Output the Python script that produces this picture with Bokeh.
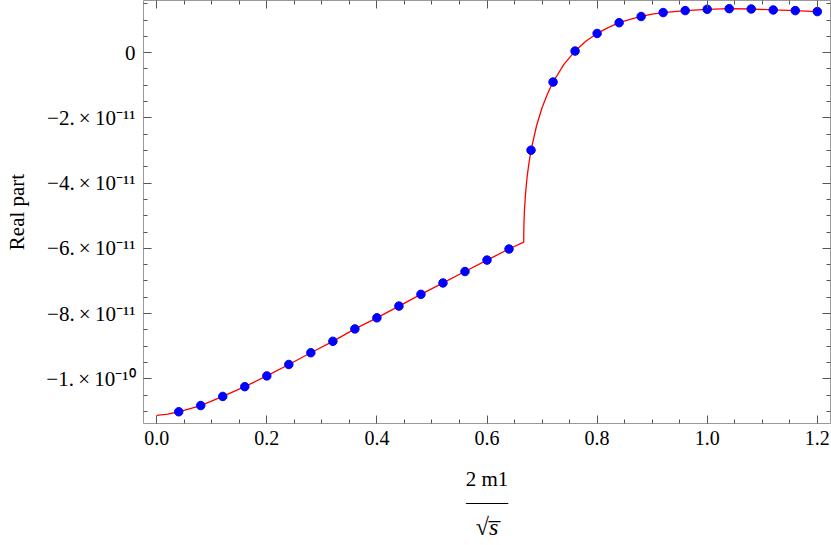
from bokeh.plotting import figure
from bokeh.models import (Range1d, LinearAxis, FixedTicker, Title,
                          CustomJSTickFormatter)
from bokeh.embed import file_html
from bokeh.resources import INLINE

# ---------------- data ----------------
dots_x = [0.04, 0.08, 0.12, 0.16, 0.20, 0.24, 0.28, 0.32, 0.36, 0.40,
          0.44, 0.48, 0.52, 0.56, 0.60, 0.64, 0.68, 0.72, 0.76, 0.80,
          0.84, 0.88, 0.92, 0.96, 1.00, 1.04, 1.08, 1.12, 1.16, 1.20]
dots_y = [-11.01e-11, -10.82e-11, -10.54e-11, -10.24e-11, -9.91e-11,
          -9.56e-11, -9.20e-11, -8.85e-11, -8.47e-11, -8.13e-11,
          -7.77e-11, -7.41e-11, -7.06e-11, -6.71e-11, -6.36e-11,
          -6.02e-11, -2.99e-11, -0.90e-11, 0.05e-11, 0.59e-11,
          0.92e-11, 1.11e-11, 1.23e-11, 1.29e-11, 1.33e-11,
          1.35e-11, 1.34e-11, 1.31e-11, 1.29e-11, 1.26e-11]

curve_x = [0.0, 0.02, 0.04, 0.08, 0.12, 0.16, 0.20, 0.24, 0.28, 0.32, 0.36,
           0.40, 0.44, 0.48, 0.52, 0.56, 0.60, 0.64, 0.6667, 0.6668, 0.6672,
           0.668, 0.670, 0.673, 0.676, 0.68, 0.69, 0.70, 0.71, 0.72, 0.74,
           0.76, 0.78, 0.80, 0.82, 0.84, 0.86, 0.88, 0.90, 0.92, 0.96, 1.00,
           1.04, 1.08, 1.12, 1.16, 1.20]
curve_y = [-11.12e-11, -11.08e-11, -11.01e-11, -10.82e-11, -10.54e-11,
           -10.24e-11, -9.91e-11, -9.56e-11, -9.20e-11, -8.85e-11, -8.47e-11,
           -8.13e-11, -7.77e-11, -7.41e-11, -7.06e-11, -6.71e-11, -6.36e-11,
           -6.02e-11, -5.81e-11, -5.53e-11, -5.21e-11, -4.85e-11, -4.32e-11,
           -3.79e-11, -3.41e-11, -2.99e-11, -2.24e-11, -1.69e-11, -1.26e-11,
           -0.90e-11, -0.35e-11, 0.05e-11, 0.36e-11, 0.59e-11, 0.77e-11,
           0.92e-11, 1.02e-11, 1.11e-11, 1.18e-11, 1.23e-11, 1.29e-11,
           1.33e-11, 1.35e-11, 1.34e-11, 1.31e-11, 1.29e-11, 1.26e-11]

x_ticks = [0.0, 0.2, 0.4, 0.6, 0.8, 1.0, 1.2]
x_tick_labels = ["0.0", "0.2", "0.4", "0.6", "0.8", "1.0", "1.2"]
x_minor = [0.05, 0.1, 0.15, 0.25, 0.3, 0.35, 0.45, 0.5, 0.55, 0.65, 0.7, 0.75,
           0.85, 0.9, 0.95, 1.05, 1.1, 1.15]
y_ticks = [-1e-10, -8e-11, -6e-11, -4e-11, -2e-11, 0.0]
y_tick_labels = ["\u22121.\u2009\u00d7\u200910\u207b\u00b9\u2070",
                 "\u22128.\u2009\u00d7\u200910\u207b\u00b9\u00b9",
                 "\u22126.\u2009\u00d7\u200910\u207b\u00b9\u00b9",
                 "\u22124.\u2009\u00d7\u200910\u207b\u00b9\u00b9",
                 "\u22122.\u2009\u00d7\u200910\u207b\u00b9\u00b9", "0"]
y_minor = [-11.0e-11, -10.5e-11, -9.5e-11, -9.0e-11, -8.5e-11, -7.5e-11, -7.0e-11,
           -6.5e-11, -5.5e-11, -5.0e-11, -4.5e-11, -3.5e-11, -3.0e-11, -2.5e-11,
           -1.5e-11, -1.0e-11, -0.5e-11, 0.5e-11, 1.0e-11, 1.5e-11]

x_label_num = "2 m1"
x_label_bar = "\u2014\u2014"
x_label_den = "\u221as\u0305"
y_label = "Real part"

X0, X1 = -0.024, 1.224
Y0, Y1 = -11.37e-11, 1.60e-11

FONT = "Liberation Serif"

# ---------------- layout ----------------
p = figure(width=831, height=545, output_backend="svg", toolbar_location=None,
           x_range=Range1d(X0, X1), y_range=Range1d(Y0, Y1),
           min_border_left=143, min_border_right=1, min_border_top=0,
           min_border_bottom=122)
p.grid.visible = False
p.outline_line_color = None
p.background_fill_color = "white"
p.border_fill_color = "white"

bx = p.below[0]
ly = p.left[0]

xt = FixedTicker(ticks=x_ticks, minor_ticks=x_minor)
yt = FixedTicker(ticks=y_ticks, minor_ticks=y_minor)

blank = "return ''"
top_ax = LinearAxis(ticker=xt, formatter=CustomJSTickFormatter(code=blank))
right_ax = LinearAxis(ticker=yt, formatter=CustomJSTickFormatter(code=blank))
p.add_layout(top_ax, "above")
p.add_layout(right_ax, "right")

for ax in [bx, ly, top_ax, right_ax]:
    ax.axis_line_color = "#9a9a9a"
    ax.axis_line_width = 1
    ax.major_tick_line_color = "#555555"
    ax.minor_tick_line_color = "#555555"
    ax.major_tick_in = 8
    ax.major_tick_out = 0
    ax.minor_tick_in = 4
    ax.minor_tick_out = 0
    ax.major_label_text_font = FONT
    ax.major_label_text_font_size = "20px"
    ax.major_label_text_color = "black"

for ax in [top_ax, right_ax]:
    ax.major_label_text_font_size = "1px"
    ax.major_label_standoff = 0

bx.ticker = xt
bx.major_label_overrides = dict(zip(x_ticks, x_tick_labels))
bx.major_label_standoff = 7
bx.axis_label = x_label_num
bx.axis_label_text_font = FONT
bx.axis_label_text_font_size = "21px"
bx.axis_label_text_font_style = "normal"
bx.axis_label_text_color = "black"
bx.axis_label_standoff = 19

ly.ticker = yt
ly.major_label_overrides = dict(zip(y_ticks, y_tick_labels))
ly.major_label_text_font_size = "21px"
ly.major_label_standoff = 8
ly.axis_label = y_label
ly.axis_label_text_font = FONT
ly.axis_label_text_font_size = "21px"
ly.axis_label_text_font_style = "normal"
ly.axis_label_text_color = "black"
ly.axis_label_standoff = 14

# fraction bar and denominator of the x label
t_bar = Title(text=x_label_bar, align="center", text_font=FONT,
              text_font_size="21px", text_font_style="normal",
              text_color="black", standoff=-12, offset=0)
t_den = Title(text=x_label_den, align="center", text_font=FONT,
              text_font_size="24px", text_font_style="italic",
              text_color="black", standoff=8, offset=0)
p.add_layout(t_bar, "below")
p.add_layout(t_den, "below")

# ---------------- data marks ----------------
p.line(curve_x, curve_y, line_color="#ff0000", line_width=1.3)
p.scatter(dots_x, dots_y, size=8.5, fill_color="#0000ff", line_color="#0000ff")

open("out.html", "w").write(file_html(p, INLINE))
